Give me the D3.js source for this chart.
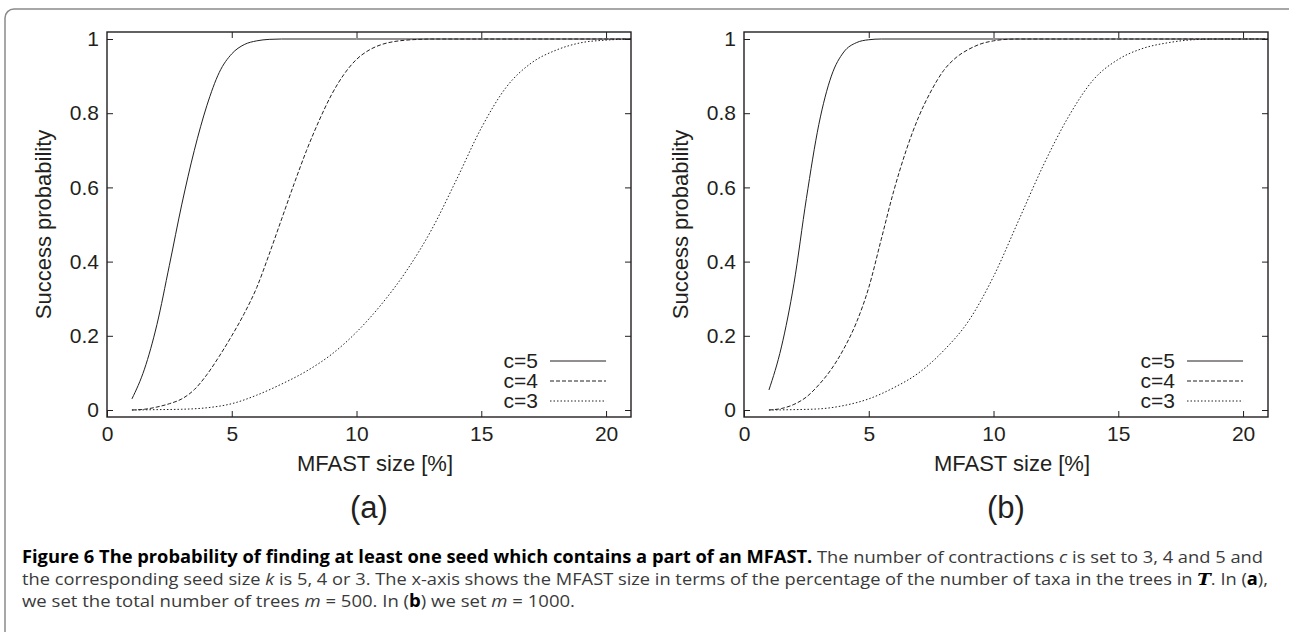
<!DOCTYPE html>
<html>
<head>
<meta charset="utf-8">
<script src="https://cdn.jsdelivr.net/npm/d3@7"></script>
<style>
  body { margin: 0; background: #fff; }
  svg { display: block; }
</style>
</head>
<body>
<svg id="fig" width="1289" height="632"></svg>
<script>
// ticks
const xTicks = [0, 5, 10, 15, 20];
const yTicks = [0, 0.2, 0.4, 0.6, 0.8, 1];

// panel (a): m = 500, [MFAST size %, success probability]
const aC5 = [[1, 0.03], [1.5, 0.11], [2, 0.23], [2.5, 0.39], [3, 0.555], [3.5, 0.70], [4, 0.82], [4.5, 0.91],
  [5, 0.96], [5.5, 0.985], [6, 0.995], [6.5, 0.999], [7, 1], [10, 1], [15, 1], [21, 1]];
const aC4 = [[1, 0], [1.5, 0.002], [2, 0.008], [2.5, 0.017], [3, 0.03], [3.5, 0.055], [4, 0.095], [4.5, 0.145],
  [5, 0.20], [5.5, 0.26], [6, 0.33], [6.5, 0.42], [7, 0.515], [7.5, 0.61], [8, 0.70], [8.5, 0.78], [9, 0.85],
  [9.5, 0.905], [10, 0.945], [10.5, 0.97], [11, 0.985], [11.5, 0.993], [12, 0.997], [12.5, 0.999], [13, 1], [21, 1]];
const aC3 = [[1, 0], [2, 0.001], [3, 0.002], [4, 0.006], [5, 0.017], [6, 0.04], [7, 0.07], [8, 0.105],
  [9, 0.15], [10, 0.21], [11, 0.285], [12, 0.375], [13, 0.485], [14, 0.62], [15, 0.76], [16, 0.87], [17, 0.935],
  [18, 0.97], [19, 0.99], [20, 0.997], [21, 1]];

// panel (b): m = 1000
const bC5 = [[1, 0.054], [1.5, 0.17], [2, 0.34], [2.5, 0.57], [3, 0.77], [3.5, 0.90], [4, 0.965], [4.5, 0.99],
  [5, 0.998], [5.5, 1], [10, 1], [15, 1], [21, 1]];
const bC4 = [[1, 0], [1.5, 0.004], [2, 0.015], [2.5, 0.035], [3, 0.068], [3.5, 0.11], [4, 0.165], [4.5, 0.235],
  [5, 0.33], [5.5, 0.46], [6, 0.59], [6.5, 0.70], [7, 0.79], [7.5, 0.86], [8, 0.915], [8.5, 0.95], [9, 0.972],
  [9.5, 0.987], [10, 0.995], [10.5, 0.999], [11, 1], [21, 1]];
const bC3 = [[1, 0], [2, 0.001], [3, 0.003], [4, 0.012], [5, 0.03], [6, 0.06], [7, 0.10], [8, 0.16], [9, 0.24],
  [10, 0.36], [11, 0.51], [12, 0.66], [13, 0.79], [14, 0.89], [15, 0.945], [16, 0.975], [17, 0.99], [18, 0.998],
  [19, 1], [21, 1]];

const legendLabels = ['c=5', 'c=4', 'c=3'];
const dashes = [null, '4,2', '1.5,2'];

const svg = d3.select('#fig');
const ink = '#231f20';
const font = '"Liberation Sans", Arial, Helvetica, sans-serif';

// outer rounded box
svg.append('rect')
  .attr('x', 5).attr('y', 9).attr('width', 1300).attr('height', 640).attr('rx', 9)
  .attr('fill', 'none').attr('stroke', '#8a8a8a').attr('stroke-width', 1.5);

function drawPanel(left, series, tag) {
  const width = 524, top = 32, bottom = 417;
  const x = d3.scaleLinear().domain([0, 21]).range([left, left + width]);
  const y = d3.scaleLinear().domain([0, 1]).range([410, 39]);
  const g = svg.append('g').attr('font-family', font).attr('fill', ink);

  // frame
  g.append('rect').attr('x', left).attr('y', top).attr('width', width).attr('height', bottom - top)
    .attr('fill', 'none').attr('stroke', ink).attr('stroke-width', 1.4);

  const styleAxis = (sel, labels) => {
    sel.select('.domain').remove();
    sel.selectAll('line').attr('stroke', ink).attr('stroke-width', 1);
    sel.selectAll('text').attr('font-size', '21px').attr('fill', ink).attr('font-family', font)
      .style('display', labels ? null : 'none');
  };

  g.append('g').attr('transform', `translate(0,${bottom})`)
    .call(d3.axisBottom(x).tickValues(xTicks).tickSizeInner(-6).tickSizeOuter(0).tickPadding(9).tickFormat(d3.format('d')))
    .call(s => styleAxis(s, true));
  g.append('g').attr('transform', `translate(0,${top})`)
    .call(d3.axisTop(x).tickValues(xTicks.slice(1)).tickSizeInner(-6).tickSizeOuter(0))
    .call(s => styleAxis(s, false));
  g.append('g').attr('transform', `translate(${left},0)`)
    .call(d3.axisLeft(y).tickValues(yTicks).tickSizeInner(-6).tickSizeOuter(0).tickPadding(8).tickFormat(d => d))
    .call(s => styleAxis(s, true));
  g.append('g').attr('transform', `translate(${left + width},0)`)
    .call(d3.axisRight(y).tickValues(yTicks).tickSizeInner(-6).tickSizeOuter(0))
    .call(s => styleAxis(s, false));

  // curves
  const line = d3.line().x(d => x(d[0])).y(d => y(d[1])).curve(d3.curveMonotoneX);
  series.forEach((s, i) => {
    g.append('path').datum(s)
      .attr('fill', 'none').attr('stroke', ink).attr('stroke-width', 1)
      .attr('stroke-dasharray', dashes[i])
      .attr('d', line);
  });

  // legend
  legendLabels.forEach((lab, i) => {
    const ly = 361 + i * 20;
    g.append('text').attr('x', left + 431).attr('y', ly).attr('dy', '0.35em')
      .attr('text-anchor', 'end').attr('font-size', '21px').text(lab);
    g.append('line').attr('x1', left + 443).attr('x2', x(20)).attr('y1', ly).attr('y2', ly)
      .attr('stroke', ink).attr('stroke-width', 1).attr('stroke-dasharray', dashes[i]);
  });

  // axis titles
  g.append('text').attr('transform', `translate(${left - 64},${(top + bottom) / 2}) rotate(-90)`)
    .attr('text-anchor', 'middle').attr('dy', '0.35em').attr('font-size', '22px').text('Success probability');
  g.append('text').attr('x', left + width / 2 + 6).attr('y', 463).attr('dy', '0.35em')
    .attr('text-anchor', 'middle').attr('font-size', '22px').text('MFAST size [%]');
  g.append('text').attr('x', left + width / 2).attr('y', 507).attr('dy', '0.35em')
    .attr('text-anchor', 'middle').attr('font-size', '31px').text(tag);
}

drawPanel(107, [aC5, aC4, aC3], '(a)');
drawPanel(744, [bC5, bC4, bC3], '(b)');

// caption
const cap = svg.append('g').attr('font-family', '"Open Sans", "Noto Sans", sans-serif').attr('font-size', '17px').attr('fill', '#3a3a3a');
const l1 = cap.append('text').attr('x', 22).attr('y', 563).attr('textLength', 1241).attr('lengthAdjust', 'spacingAndGlyphs');
l1.append('tspan').attr('font-weight', 'bold').attr('fill', '#000').text('Figure 6 The probability of finding at least one seed which contains a part of an MFAST.');
l1.append('tspan').text(' The number of contractions ');
l1.append('tspan').attr('font-style', 'italic').text('c');
l1.append('tspan').text(' is set to 3, 4 and 5 and');

const l2 = cap.append('text').attr('x', 22).attr('y', 585).attr('textLength', 1246).attr('lengthAdjust', 'spacingAndGlyphs');
l2.append('tspan').text('the corresponding seed size ');
l2.append('tspan').attr('font-style', 'italic').text('k');
l2.append('tspan').text(' is 5, 4 or 3. The x-axis shows the MFAST size in terms of the percentage of the number of taxa in the trees in ');
l2.append('tspan').attr('font-family', '"DejaVu Serif", serif').attr('font-style', 'italic').attr('font-weight', 'bold').attr('fill', '#000').text('T');
l2.append('tspan').text('. In (');
l2.append('tspan').attr('font-weight', 'bold').attr('fill', '#000').text('a');
l2.append('tspan').text('),');

const l3 = cap.append('text').attr('x', 22).attr('y', 607).attr('textLength', 553).attr('lengthAdjust', 'spacingAndGlyphs');
l3.append('tspan').text('we set the total number of trees ');
l3.append('tspan').attr('font-style', 'italic').text('m');
l3.append('tspan').text(' = 500. In (');
l3.append('tspan').attr('font-weight', 'bold').attr('fill', '#000').text('b');
l3.append('tspan').text(') we set ');
l3.append('tspan').attr('font-style', 'italic').text('m');
l3.append('tspan').text(' = 1000.');
</script>
</body>
</html>
